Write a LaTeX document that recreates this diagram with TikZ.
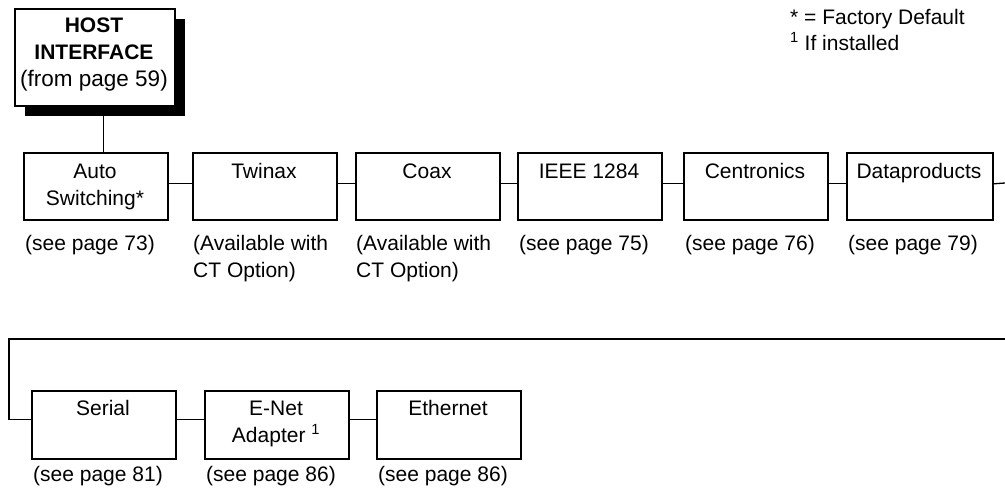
\documentclass[tikz,border=0pt]{standalone}
\usepackage{fontspec}
\setmainfont{Liberation Sans}
\begin{document}
\begin{tikzpicture}[x=1pt,y=-1pt,
  box/.style={draw, line width=1.6pt, minimum width=144pt, minimum height=67pt, anchor=north west, inner sep=0pt},
  lowbox/.style={box, minimum height=68pt},
  txt/.style={font=\fontsize{21}{27}\selectfont, align=center, anchor=base, inner sep=0pt},
  lbl/.style={font=\fontsize{21}{27}\selectfont, align=left, anchor=base west, inner sep=0pt},
  conn/.style={line width=1.3pt}]
\useasboundingbox (0,0) rectangle (1005,493);
% host box with shadow
\node[fill=black, minimum width=160pt, minimum height=97pt, anchor=north west, inner sep=0pt] (hostshadow) at (25,19) {};
\node[draw, fill=white, line width=1.6pt, minimum width=160pt, minimum height=97pt, anchor=north west, inner sep=0pt] (host) at (14,8) {};
\node[txt] (hosttxt) at (94,86) {\textbf{HOST}\\\textbf{INTERFACE}\\{\fontsize{22.5}{27}\selectfont (from page 59)}};
% top row
\node[box] (auto) at (23,152) {};
\node[box] (twinax) at (192,152) {};
\node[box] (coax) at (355,152) {};
\node[box] (ieee) at (517,152) {};
\node[box] (centr) at (683,152) {};
\node[box, minimum width=146pt] (datap) at (846,152) {};
\node[txt] (autot) at (95,205) {Auto\\Switching*};
\node[txt] (twinaxt) at (264,178) {Twinax};
\node[txt] (coaxt) at (427,178) {Coax};
\node[txt] (ieeet) at (589,178) {IEEE 1284};
\node[txt] (centrt) at (755,178) {Centronics};
\node[txt] (datapt) at (919,178) {Dataproducts};
\node[lbl] (autol) at (25,250) {(see page 73)};
\node[lbl] (twinaxl) at (193,277) {(Available with\\CT Option)};
\node[lbl] (coaxl) at (356,277) {(Available with\\CT Option)};
\node[lbl] (ieeel) at (519,250) {(see page 75)};
\node[lbl] (centrl) at (685,250) {(see page 76)};
\node[lbl] (datapl) at (848,250) {(see page 79)};
% bottom row
\node[lowbox] (serial) at (31,390) {};
\node[lowbox] (enet) at (204,390) {};
\node[lowbox] (ether) at (376,390) {};
\node[txt] (serialt) at (103,415) {Serial};
\node[txt] (enett) at (276,442) {E-Net\\Adapter \textsuperscript{1}};
\node[txt] (ethert) at (448,415) {Ethernet};
\node[lbl] (seriall) at (33,481) {(see page 81)};
\node[lbl] (enetl) at (206,481) {(see page 86)};
\node[lbl] (etherl) at (378,481) {(see page 86)};
% footnotes
\node[lbl, font=\fontsize{21}{26}\selectfont] (notes) at (790,50) {* = Factory Default\\\textsuperscript{1} If installed};
% connectors
\draw[conn] ([xshift=-2pt]hostshadow.south) -- ([xshift=-2pt]hostshadow.south |- auto.north);
\draw[conn] ([yshift=2.5pt]auto.east) -- ([yshift=2.5pt]twinax.west);
\draw[conn] ([yshift=2.5pt]twinax.east) -- ([yshift=2.5pt]coax.west);
\draw[conn] ([yshift=2.5pt]coax.east) -- ([yshift=2.5pt]ieee.west);
\draw[conn] ([yshift=2.5pt]ieee.east) -- ([yshift=2.5pt]centr.west);
\draw[conn] ([yshift=2.5pt]centr.east) -- ([yshift=2.5pt]datap.west);
\coordinate (rt) at (1005,183);
\draw[conn] ([yshift=2.5pt]datap.east) -- (rt);
\coordinate (wr) at (1005,339);
\coordinate (wl) at (9,339);
\draw[conn] (wr) -- (wl) |- ([yshift=5pt]serial.west);
\draw[conn] ([yshift=5pt]serial.east) -- ([yshift=5pt]enet.west);
\draw[conn] ([yshift=5pt]enet.east) -- ([yshift=5pt]ether.west);
\end{tikzpicture}
\end{document}
